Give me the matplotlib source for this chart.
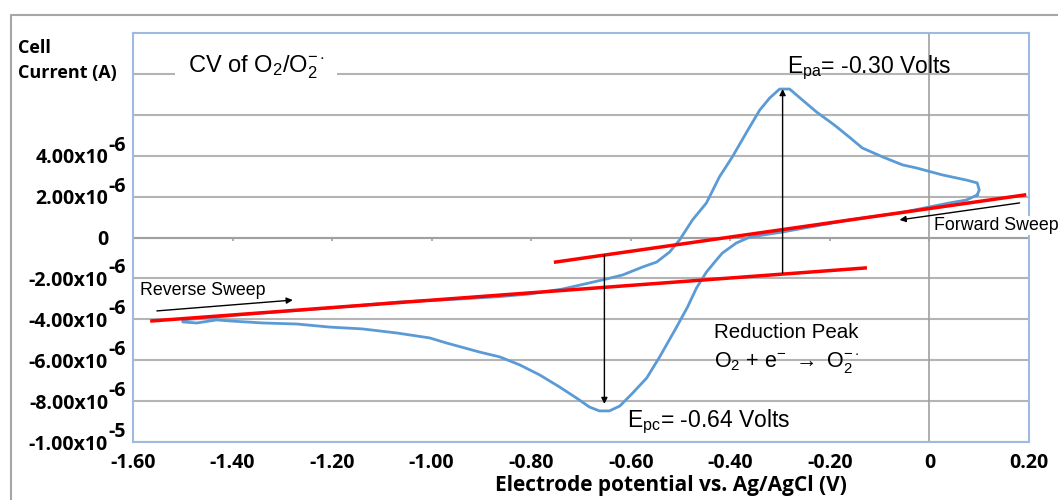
import matplotlib
matplotlib.use('Agg')
import matplotlib.pyplot as plt
import matplotlib.transforms as mtransforms
import numpy as np
from matplotlib.lines import Line2D

plt.rcParams['font.family'] = ['Liberation Sans', 'DejaVu Sans']
plt.rcParams['mathtext.fontset'] = 'custom'
plt.rcParams['mathtext.rm'] = 'Liberation Sans'
plt.rcParams['mathtext.it'] = 'Liberation Sans'

# CV loop of O2/O2-. : potential (V vs Ag/AgCl) and current (uA)
# cathodic branch from the right end going left, then anodic branch back to the right end
potential = [0.096, 0.074, 0.040, -0.060, -0.161, -0.295, -0.361, -0.388, -0.416, -0.428,
             -0.448, -0.468, -0.486, -0.508, -0.542, -0.568, -0.596, -0.622, -0.643, -0.663,
             -0.683, -0.709, -0.743, -0.783, -0.823, -0.863, -0.904, -0.970, -1.004, -1.070,
             -1.139, -1.205, -1.271, -1.339, -1.406, -1.432, -1.472, -1.500,
             -1.500, -1.365, -1.205, -1.064, -0.944, -0.863, -0.803, -0.737, -0.683, -0.649,
             -0.616, -0.576, -0.548, -0.522, -0.502, -0.476, -0.448, -0.422, -0.396, -0.367,
             -0.341, -0.321, -0.301, -0.281, -0.255, -0.227, -0.191, -0.161, -0.135, -0.094,
             -0.054, -0.026, 0.026, 0.074, 0.096, 0.100, 0.096]
current_ua = [2.08, 1.83, 1.69, 1.20, 0.86, 0.27, 0.02, -0.27, -0.76, -1.10,
              -1.69, -2.47, -3.40, -4.38, -5.84, -6.87, -7.60, -8.24, -8.48, -8.48,
              -8.29, -7.85, -7.31, -6.72, -6.23, -5.84, -5.60, -5.16, -4.91, -4.67,
              -4.47, -4.38, -4.23, -4.18, -4.08, -4.03, -4.18, -4.13,
              -4.03, -3.74, -3.45, -3.15, -3.01, -2.89, -2.76, -2.52, -2.22, -2.03,
              -1.83, -1.44, -1.20, -0.71, -0.12, 0.86, 1.69, 2.96, 3.94, 5.16,
              6.23, 6.82, 7.26, 7.26, 6.72, 6.14, 5.50, 4.91, 4.38, 3.94,
              3.55, 3.40, 3.06, 2.81, 2.67, 2.32, 2.08]

# red baselines (V, uA)
base_lower_x = [-1.562, -0.129]
base_lower_y = [-4.08, -1.49]
base_upper_x = [-0.751, 0.191]
base_upper_y = [-1.20, 2.08]

# peak potentials marked with arrows (V) and their current span (uA)
epa_x, epa_y = -0.295, [-1.74, 7.26]
epc_x, epc_y = -0.653, [-0.86, -8.14]

x_ticks = [-1.6, -1.4, -1.2, -1.0, -0.8, -0.6, -0.4, -0.2, 0.0, 0.2]
x_labels = ['-1.60', '-1.40', '-1.20', '-1.00', '-0.80', '-0.60', '-0.40', '-0.20', '0', '0.20']
y_ticks = [-10, -8, -6, -4, -2, 0, 2, 4, 6, 8]
y_labels = ['-1.00x10', '-8.00x10', '-6.00x10', '-4.00x10', '-2.00x10', '0',
            '2.00x10', '4.00x10', '', '']
y_exps = ['-5', '-6', '-6', '-6', '-6', '', '-6', '-6', '', '']

W, H = 1058, 500
fig = plt.figure(figsize=(W / 100, H / 100), dpi=100)
ax = fig.add_axes([133 / W, 58 / H, 896 / W, 409 / H])

ua = 1e-6
grid_c = '#b4b4b4'
tick_font = dict(fontfamily='Open Sans', fontweight='bold', fontsize=14)

ax.set_xlim(-1.6, 0.2)
ax.set_ylim(-10 * ua, 10 * ua)
ax.set_yticks([t * ua for t in y_ticks], y_labels, **tick_font)
ax.set_xticks(x_ticks, x_labels, **tick_font)
ax.grid(axis='y', color=grid_c, lw=1.5)
ax.set_axisbelow(True)
ax.tick_params(axis='both', length=0)
ax.tick_params(axis='y', pad=18)
ax.tick_params(axis='x', pad=8)
for s in ax.spines.values():
    s.set_color('#9dbbe0')
    s.set_linewidth(1.5)

# exponents of the y tick labels
exp_tr = mtransforms.offset_copy(
    mtransforms.blended_transform_factory(ax.transAxes, ax.transData),
    fig=fig, x=0, y=5, units='dots')
for t, e in zip(y_ticks, y_exps):
    if e:
        ax.text(-25 / 896, t * ua, e, transform=exp_tr, ha='left', va='baseline',
                clip_on=False, **tick_font)

# axes crossing at zero, like the spreadsheet chart
ax.axhline(0, color='#a0a0a0', lw=1.5, zorder=1)
ax.axvline(0, color='#a0a0a0', lw=1.2, zorder=1)
ax.vlines(x_ticks, -0.18 * ua, 0, color='#a0a0a0', lw=1.2, zorder=1)

ax.plot(potential, [c * ua for c in current_ua], color='#5b9bd5', lw=2, zorder=3)
ax.plot(base_lower_x, [c * ua for c in base_lower_y], color='#ff0000', lw=2.5, zorder=4)
ax.plot(base_upper_x, [c * ua for c in base_upper_y], color='#ff0000', lw=2.5, zorder=4)

arr = dict(arrowstyle='-|>', color='black', lw=1, mutation_scale=9, shrinkA=0, shrinkB=0)
ax.annotate('', xy=(epa_x, epa_y[1] * ua), xytext=(epa_x, epa_y[0] * ua), arrowprops=arr, zorder=5)
ax.annotate('', xy=(epc_x, epc_y[1] * ua), xytext=(epc_x, epc_y[0] * ua), arrowprops=arr, zorder=5)
ax.annotate('', xy=(-1.279, -3.06 * ua), xytext=(-1.552, -3.59 * ua), arrowprops=arr, zorder=5)
ax.annotate('', xy=(-0.060, 0.86 * ua), xytext=(0.181, 1.69 * ua), arrowprops=arr, zorder=5)

ax.text(-1.490, 8.09 * ua, r'CV of O$_2$/O$_2^{-\cdot}$', fontsize=17, va='baseline',
        bbox=dict(facecolor='white', edgecolor='none', pad=9), zorder=6)
ax.text(-0.287, 8.04 * ua, r'E$_{\mathrm{pa}}$= -0.30 Volts', fontsize=16.5, va='baseline', zorder=6)
ax.text(-0.608, -9.27 * ua, r'E$_{\mathrm{pc}}$= -0.64 Volts', fontsize=16.5, va='baseline', zorder=6)
ax.text(-0.432, -4.91 * ua, 'Reduction Peak', fontsize=14.8, va='baseline', zorder=6)
ax.text(-0.432, -6.33 * ua, r'O$_2$ + e$^{-}$ $\rightarrow$ O$_2^{-\cdot}$', fontsize=15.5,
        va='baseline', zorder=6)
ax.text(-1.586, -2.81 * ua, 'Reverse Sweep', fontsize=12.8, va='baseline', zorder=6)
ax.text(0.010, 0.37 * ua, 'Forward Sweep', fontsize=12.8, va='baseline', zorder=6, clip_on=False,
        bbox=dict(facecolor='white', edgecolor='none', pad=1))

# axis titles
title_font = dict(fontfamily='Open Sans', fontweight='bold')
fig.text(18 / W, 1 - 53 / H, 'Cell', fontsize=13, va='baseline', **title_font)
fig.text(18 / W, 1 - 78 / H, 'Current (A)', fontsize=13, va='baseline', **title_font)
fig.text(671 / W, 1 - 485 / H, 'Electrode potential vs. Ag/AgCl (V)', fontsize=15,
         ha='center', va='center', **title_font)

# outer chart frame
fig.add_artist(Line2D([11 / W, 11 / W, 1.0], [0.0, 1 - 15 / H, 1 - 15 / H],
                      transform=fig.transFigure, color='#a6a6a6', lw=1.5))

fig.savefig('out.png', dpi=100)
